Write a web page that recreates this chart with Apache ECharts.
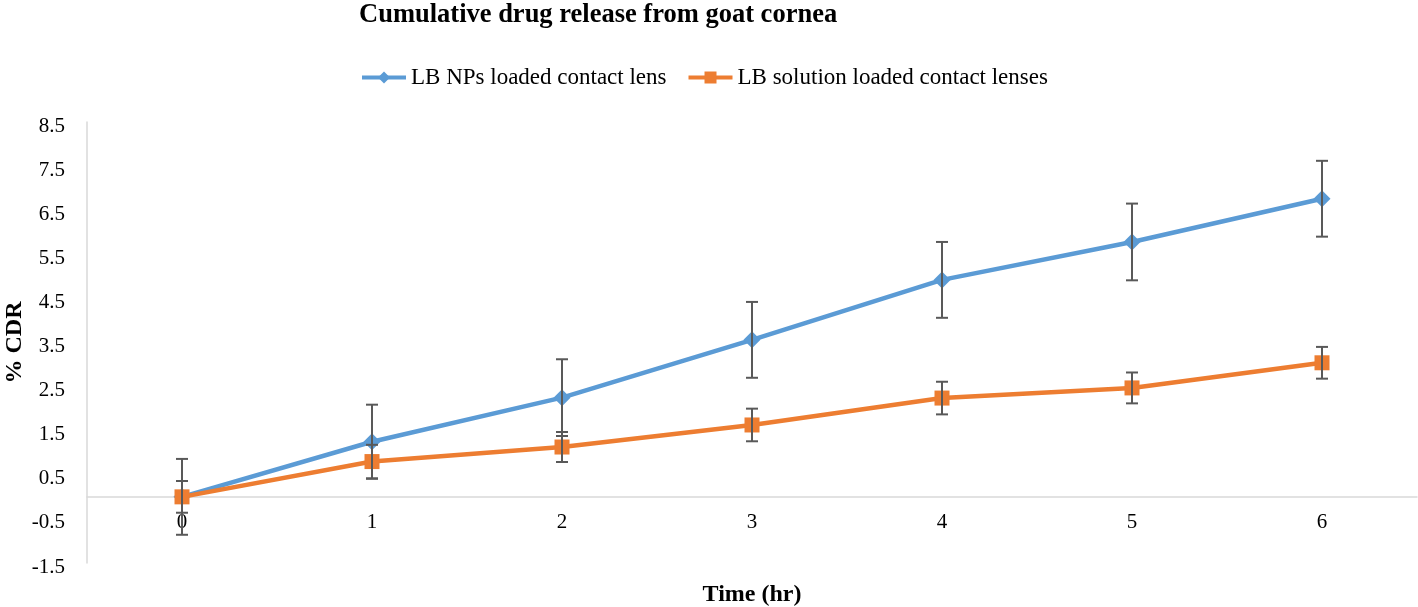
<!DOCTYPE html>
<html>
<head>
<meta charset="utf-8">
<script src="https://cdn.jsdelivr.net/npm/echarts@6/dist/echarts.min.js"></script>
<style>html,body{margin:0;padding:0;background:#fff}#c{width:1418px;height:607px}</style>
</head>
<body>
<div id="c"></div>
<script>
var categories = ['0', '1', '2', '3', '4', '5', '6'];
var npValues = [0, 1.25, 2.25, 3.56, 4.92, 5.78, 6.76];
var npErrors = [0.86, 0.84, 0.87, 0.86, 0.86, 0.87, 0.86];
var solValues = [0, 0.8, 1.13, 1.63, 2.24, 2.47, 3.04];
var solErrors = [0.36, 0.38, 0.34, 0.37, 0.37, 0.35, 0.36];
var yTickLabels = [-1.5, -0.5, 0.5, 1.5, 2.5, 3.5, 4.5, 5.5, 6.5, 7.5, 8.5];
var seriesNames = ['LB NPs loaded contact lens', 'LB solution loaded contact lenses'];

var FONT = '"Liberation Serif", "Times New Roman", serif';
var BLUE = '#5b9bd5', ORANGE = '#ed7d31', ERR = '#595959';

function errData(vals, errs) {
  return vals.map(function (v, i) { return [i, v - errs[i], v + errs[i]]; });
}
function errRender(params, api) {
  var x = api.value(0);
  var lo = api.coord([x, api.value(1)]);
  var hi = api.coord([x, api.value(2)]);
  var hw = 6;
  var st = { stroke: ERR, lineWidth: 2, fill: null };
  return {
    type: 'group',
    children: [
      { type: 'line', shape: { x1: hi[0], y1: hi[1], x2: lo[0], y2: lo[1] }, style: st },
      { type: 'line', shape: { x1: hi[0] - hw, y1: hi[1], x2: hi[0] + hw, y2: hi[1] }, style: st },
      { type: 'line', shape: { x1: lo[0] - hw, y1: lo[1], x2: lo[0] + hw, y2: lo[1] }, style: st }
    ]
  };
}

var chart = echarts.init(document.getElementById('c'), null, { renderer: 'canvas' });
chart.setOption({
  animation: false,
  backgroundColor: '#fff',
  title: {
    text: 'Cumulative drug release from goat cornea',
    left: 354,
    top: -3,
    textStyle: { fontFamily: FONT, fontWeight: 'bold', fontSize: 26.5, color: '#000' }
  },
  legend: {
    top: 61,
    left: 355,
    itemGap: 20,
    itemWidth: 44,
    itemHeight: 15,
    data: seriesNames,
    lineStyle: { width: 4 },
    textStyle: { fontFamily: FONT, fontSize: 23, color: '#000' }
  },
  grid: { left: 87, right: 1, top: 122, bottom: 44, containLabel: false, outerBoundsMode: 'none' },
  xAxis: {
    type: 'category',
    data: categories,
    boundaryGap: true,
    offset: -66,
    name: 'Time (hr)',
    nameLocation: 'middle',
    nameGap: 86,
    nameMoveOverlap: false,
    nameTextStyle: { fontFamily: FONT, fontWeight: 'bold', fontSize: 24, color: '#000' },
    axisLine: { onZero: false, lineStyle: { color: '#d9d9d9', width: 1.5 } },
    axisTick: { show: false },
    axisLabel: { fontFamily: FONT, fontSize: 21, color: '#000', margin: 15 },
    splitLine: { show: false }
  },
  yAxis: {
    type: 'value',
    min: -1.5,
    max: 8.5,
    interval: 0.5,
    name: '% CDR',
    nameLocation: 'middle',
    nameGap: 60,
    nameRotate: 90,
    nameMoveOverlap: false,
    nameTextStyle: { fontFamily: FONT, fontWeight: 'bold', fontSize: 24, color: '#000' },
    axisLine: { show: true, lineStyle: { color: '#d9d9d9', width: 1.5 } },
    axisTick: { show: false },
    splitLine: { show: false },
    axisLabel: {
      fontFamily: FONT, fontSize: 21, color: '#000', margin: 22,
      customValues: yTickLabels,
      formatter: function (v) { return '{a|' + (Math.round(v * 10) / 10).toFixed(1) + '}'; },
      rich: { a: { fontFamily: FONT, fontSize: 21, color: '#000', padding: [8, 0, 0, 0] } }
    }
  },
  series: [
    {
      name: seriesNames[0], type: 'line', data: npValues,
      symbol: 'diamond', symbolSize: 17,
      lineStyle: { color: BLUE, width: 4.5 }, itemStyle: { color: BLUE }, z: 3
    },
    {
      name: seriesNames[1], type: 'line', data: solValues,
      symbol: 'rect', symbolSize: 15,
      lineStyle: { color: ORANGE, width: 4.5 }, itemStyle: { color: ORANGE }, z: 4
    },
    {
      type: 'custom', data: errData(npValues, npErrors), renderItem: errRender, z: 5,
      encode: { x: 0, y: [1, 2] }, silent: true
    },
    {
      type: 'custom', data: errData(solValues, solErrors), renderItem: errRender, z: 5,
      encode: { x: 0, y: [1, 2] }, silent: true
    }
  ]
});
</script>
</body>
</html>
